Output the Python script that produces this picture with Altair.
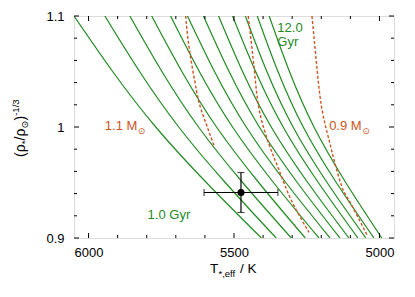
import altair as alt
import pandas as pd

# ---------------- data ----------------
ages = ["1.0", "2.0", "3.0", "4.0", "5.0", "6.0", "7.0", "8.0", "9.0", "10.0", "11.0", "12.0"]
iso_rho = [1.10, 1.00, 0.90]
iso_teff_top = [6050, 5944, 5858, 5783, 5718, 5660, 5605, 5553, 5505, 5461, 5420, 5379]
iso_teff_mid = [5769, 5690, 5622, 5560, 5505, 5458, 5413, 5372, 5331, 5297, 5262, 5225]
iso_teff_bot = [5406, 5355, 5303, 5255, 5208, 5170, 5136, 5105, 5074, 5047, 5019, 4992]

m11_teff = [5666, 5653, 5629, 5612, 5567]
m11_rho = [1.100, 1.069, 1.033, 1.015, 0.982]
m10_teff = [5451, 5430, 5413, 5379, 5345, 5303, 5242]
m10_rho = [1.100, 1.051, 1.015, 0.984, 0.961, 0.934, 0.905]
m09_teff = [5232, 5214, 5197, 5173, 5156, 5129, 5105, 5043]
m09_rho = [1.100, 1.051, 1.015, 0.988, 0.970, 0.946, 0.934, 0.903]

star_teff = [5476]
star_teff_err = [127]
star_rho = [0.941]
star_rho_err = [0.018]

x_major = [6000, 5500, 5000]
x_minor = [6000, 5900, 5800, 5700, 5600, 5500, 5400, 5300, 5200, 5100, 5000]
y_major = [0.9, 1.0, 1.1]
y_minor = [0.92, 0.94, 0.96, 0.98, 1.02, 1.04, 1.06, 1.08]

# ---------------- tables ----------------
iso_rows = []
for i, a in enumerate(ages):
    for k, t in enumerate([iso_teff_top[i], iso_teff_mid[i], iso_teff_bot[i]]):
        iso_rows.append({"age": a, "k": k, "teff": t, "rho": iso_rho[k]})
iso_df = pd.DataFrame(iso_rows)

trk_rows = []
for name, tt, rr in [("1.1", m11_teff, m11_rho), ("1.0", m10_teff, m10_rho), ("0.9", m09_teff, m09_rho)]:
    for k, (t, r) in enumerate(zip(tt, rr)):
        trk_rows.append({"mass": name, "k": k, "teff": t, "rho": r})
trk_df = pd.DataFrame(trk_rows)

pt_df = pd.DataFrame({
    "teff": star_teff, "rho": star_rho,
    "teff_lo": [t - e for t, e in zip(star_teff, star_teff_err)],
    "teff_hi": [t + e for t, e in zip(star_teff, star_teff_err)],
    "rho_lo": [r - e for r, e in zip(star_rho, star_rho_err)],
    "rho_hi": [r + e for r, e in zip(star_rho, star_rho_err)],
})
xcap_df = pd.DataFrame({"teff": [pt_df.teff_lo[0], pt_df.teff_hi[0]], "rho": [star_rho[0]] * 2})
ycap_df = pd.DataFrame({"teff": [star_teff[0]] * 2, "rho": [pt_df.rho_lo[0], pt_df.rho_hi[0]]})

xmaj_df = pd.DataFrame({"v": x_major})
xmin_df = pd.DataFrame({"v": [v for v in x_minor if v not in x_major]})
ymaj_df = pd.DataFrame({"v": y_major})
ymin_df = pd.DataFrame({"v": y_minor})

# ---------------- style ----------------
W, H = 320, 222
GREEN = "#228b22"
ORANGE = "#cc5522"
FONT = "Liberation Sans"

xs = alt.Scale(domain=[4950, 6050], reverse=True, nice=False, zero=False)
ys = alt.Scale(domain=[0.9, 1.1], nice=False, zero=False)
xaxis = alt.Axis(values=x_major, ticks=False, domain=False, grid=False, title=None,
                 labelFontSize=13, labelPadding=8, labelColor="black", format="d", labelFont=FONT)
yaxis = alt.Axis(values=y_major, ticks=False, domain=False, grid=False, title=None,
                 labelFontSize=13, labelPadding=10, labelColor="black", labelFont=FONT,
                 labelExpr="datum.value == 1 ? '1' : format(datum.value, '.1f')")


def X(f):
    return alt.X(f, type="quantitative", scale=xs, axis=xaxis)


def Y(f):
    return alt.Y(f, type="quantitative", scale=ys, axis=yaxis)


one = pd.DataFrame({"a": [0]})

iso = alt.Chart(iso_df).mark_line(color=GREEN, strokeWidth=1.2, clip=True, interpolate="natural").encode(
    x=X("teff"), y=Y("rho"), detail="age:N", order="k:Q")
trk = alt.Chart(trk_df).mark_line(color=ORANGE, strokeWidth=1.4, strokeDash=[3, 2], clip=True,
                                  interpolate="natural").encode(
    x=X("teff"), y=Y("rho"), detail="mass:N", order="k:Q")

ebx = alt.Chart(pt_df).mark_rule(color="black", strokeWidth=1.2).encode(x=X("teff_lo"), x2="teff_hi", y=Y("rho"))
eby = alt.Chart(pt_df).mark_rule(color="black", strokeWidth=1.2).encode(x=X("teff"), y=Y("rho_lo"), y2="rho_hi")
capx = alt.Chart(xcap_df).mark_tick(color="black", orient="vertical", size=7, thickness=1.2).encode(x=X("teff"), y=Y("rho"))
capy = alt.Chart(ycap_df).mark_tick(color="black", orient="horizontal", size=7, thickness=1.2).encode(x=X("teff"), y=Y("rho"))
pt = alt.Chart(pt_df).mark_circle(color="black", size=50, opacity=1).encode(x=X("teff"), y=Y("rho"))

# axis ticks (inward, all four sides)
tk = []
for df, ln in [(xmaj_df, 5), (xmin_df, 3)]:
    tk.append(alt.Chart(df).mark_rule(color="black", strokeWidth=1).encode(x=X("v"), y=alt.value(H), y2=alt.value(H - ln)))
    tk.append(alt.Chart(df).mark_rule(color="black", strokeWidth=1).encode(x=X("v"), y=alt.value(0), y2=alt.value(ln)))
for df, ln in [(ymaj_df, 5), (ymin_df, 3)]:
    tk.append(alt.Chart(df).mark_rule(color="black", strokeWidth=1).encode(y=Y("v"), x=alt.value(0), x2=alt.value(ln)))
    tk.append(alt.Chart(df).mark_rule(color="black", strokeWidth=1).encode(y=Y("v"), x=alt.value(W), x2=alt.value(W - ln)))

# labels
gyr_df = pd.DataFrame({"teff": [5797, 5351, 5351], "rho": [0.9207, 1.0892, 1.0766], "label": ["1.0 Gyr", "12.0", "Gyr"]})
gyr = alt.Chart(gyr_df).mark_text(align="left", baseline="middle", fontSize=13, color=GREEN, font=FONT).encode(
    x=X("teff"), y=Y("rho"), text="label:N")
msun_df = pd.DataFrame({"teff": [5944, 5173], "rho": [1.001, 1.001], "label": ["1.1 M", "0.9 M"]})
msun = alt.Chart(msun_df).mark_text(align="left", baseline="middle", fontSize=13, color=ORANGE, font=FONT).encode(
    x=X("teff"), y=Y("rho"), text="label:N")
msun_sub = alt.Chart(msun_df).mark_text(align="left", baseline="middle", fontSize=9, color=ORANGE, dx=33, dy=5,
                                        font="DejaVu Sans").encode(
    x=X("teff"), y=Y("rho"), text=alt.value("⊙"))

# x title: T_{*,eff} / K
xt = []
for txt, dx, dy, fs in [("T", 0, 0, 13.5), ("*,eff", 8.5, 5, 9.5), ("/ K", 30, 0, 13.5)]:
    xt.append(alt.Chart(one).mark_text(align="left", baseline="middle", fontSize=fs, font=FONT, color="black",
                                        dx=dx, dy=dy).encode(x=alt.value(136), y=alt.value(253), text=alt.value(txt)))

# y title: (rho_*/rho_sun)^{-1/3}
yt = []
for txt, dx, dy, fs, fnt in [("(ρ", 0, 0, 14, FONT), ("*", 12.8, 4, 9.5, FONT), ("/ρ", 16.5, 0, 14, FONT),
                             ("⊙", 28.5, 4, 9.5, "DejaVu Sans"), (")", 36.5, 0, 14, FONT),
                             ("-1/3", 41.2, -5, 9.5, FONT)]:
    yt.append(alt.Chart(one).mark_text(align="left", baseline="middle", fontSize=fs, font=fnt, color="black",
                                        angle=270, dx=dx, dy=dy).encode(x=alt.value(-53), y=alt.value(141),
                                                                       text=alt.value(txt)))

chart = alt.layer(iso, trk, ebx, eby, capx, capy, pt, *tk, gyr, msun, msun_sub, *xt, *yt).properties(
    width=W, height=H,
    autosize=alt.AutoSizeParams(type="none"),
    padding={"left": 66, "top": 8, "right": 12, "bottom": 55},
).configure_view(stroke="black", strokeWidth=1.2).configure(font=FONT)

chart.save("out.html", embed_options={"renderer": "svg", "actions": False})
